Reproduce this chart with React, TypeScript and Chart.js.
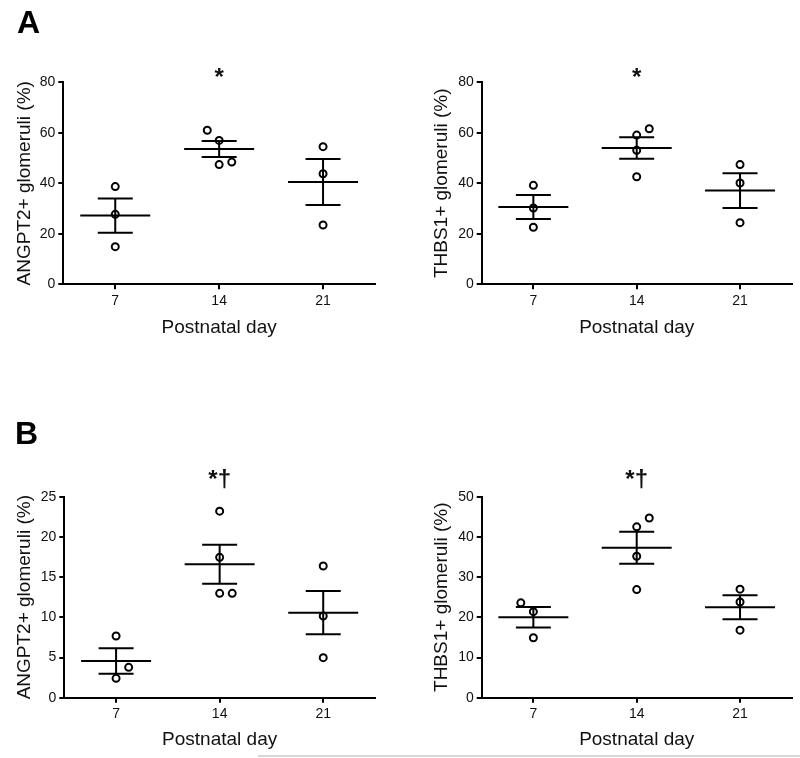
import React, { useEffect, useRef } from "react";
import { Chart, registerables } from "chart.js";

Chart.register(...registerables);

// ---------- data ----------
const dayTicks = [7, 14, 21];
const xTitle = "Postnatal day";

// Panel A, ANGPT2
const angptA_x = [7, 7, 7, 13.2, 14, 14, 14.85, 21, 21, 21];
const angptA_y = [38.7, 27.7, 14.9, 61.0, 57.0, 47.4, 48.4, 54.5, 43.8, 23.5];
const angptA_mean = [27.2, 53.6, 40.5];
const angptA_sem = [6.8, 3.15, 9.1];
const angptA_marks = ["", "*", ""];
const angptA_yTicks = [0, 20, 40, 60, 80];

// Panel A, THBS1
const thbsA_x = [7, 7, 7, 14, 14.85, 14, 14, 21, 21, 21];
const thbsA_y = [39.2, 30.2, 22.6, 59.1, 61.6, 53.1, 42.6, 47.4, 40.1, 24.4];
const thbsA_mean = [30.6, 54.0, 37.1];
const thbsA_sem = [4.75, 4.25, 6.9];
const thbsA_marks = ["", "*", ""];
const thbsA_yTicks = [0, 20, 40, 60, 80];

// Panel B, ANGPT2
const angptB_x = [7, 7.85, 7, 14, 14, 14, 14.85, 21, 21, 21];
const angptB_y = [7.67, 3.78, 2.41, 23.2, 17.46, 12.98, 12.98, 16.38, 10.16, 4.98];
const angptB_mean = [4.56, 16.59, 10.58];
const angptB_sem = [1.58, 2.43, 2.68];
const angptB_marks = ["", "*†", ""];
const angptB_yTicks = [0, 5, 10, 15, 20, 25];

// Panel B, THBS1
const thbsB_x = [6.15, 7, 7, 14, 14.85, 14, 14, 21, 21, 21];
const thbsB_y = [23.6, 21.4, 14.9, 42.5, 44.7, 35.2, 26.9, 27.0, 23.8, 16.8];
const thbsB_mean = [20.0, 37.3, 22.5];
const thbsB_sem = [2.55, 4.0, 3.0];
const thbsB_marks = ["", "*†", ""];
const thbsB_yTicks = [0, 10, 20, 30, 40, 50];

// ---------- styling ----------
const FONT = '"Liberation Sans", Arial, Helvetica, sans-serif';
const W = 400;
const H = 379;
const TITLE_SIZE = 19;
const TITLE_LH = TITLE_SIZE * 1.2;

type Area = { l: number; t: number; r: number; b: number };

type PanelProps = {
  left: number;
  top: number;
  area: Area;
  yTitleCx: number;
  xTitleMid: number;
  yTitle: string;
  xs: number[];
  ys: number[];
  means: number[];
  sems: number[];
  marks: string[];
  markOffset: number;
  yTicks: number[];
};

function Panel(p: PanelProps) {
  const ref = useRef<HTMLCanvasElement | null>(null);

  useEffect(() => {
    const canvas = ref.current;
    if (!canvas) return;

    const meanSem = {
      id: "meanSem",
      afterDraw(chart: any) {
        const { ctx, chartArea } = chart;
        const x = chart.scales.x;
        const y = chart.scales.y;
        ctx.save();
        ctx.strokeStyle = "#000";
        ctx.lineWidth = 2;
        p.means.forEach((m, i) => {
          const cx = x.getPixelForValue(dayTicks[i]);
          const ym = y.getPixelForValue(m);
          const yu = y.getPixelForValue(m + p.sems[i]);
          const yl = y.getPixelForValue(m - p.sems[i]);
          ctx.beginPath();
          ctx.moveTo(cx - 35, ym);
          ctx.lineTo(cx + 35, ym);
          ctx.moveTo(cx - 17.5, yu);
          ctx.lineTo(cx + 17.5, yu);
          ctx.moveTo(cx - 17.5, yl);
          ctx.lineTo(cx + 17.5, yl);
          ctx.moveTo(cx, yu);
          ctx.lineTo(cx, yl);
          ctx.stroke();
        });
        ctx.fillStyle = "#111";
        ctx.font = `bold 24px ${FONT}`;
        ctx.textAlign = "center";
        ctx.textBaseline = "alphabetic";
        p.marks.forEach((t, i) => {
          if (t) ctx.fillText(t, x.getPixelForValue(dayTicks[i]), chartArea.top + p.markOffset);
        });
        ctx.restore();
      },
    };

    const yMax = p.yTicks[p.yTicks.length - 1];
    const chart = new Chart(canvas, {
      type: "scatter",
      data: {
        datasets: [
          {
            data: p.xs.map((xv, i) => ({ x: xv, y: p.ys[i] })),
            pointStyle: "circle",
            pointRadius: 3.5,
            pointBorderWidth: 2,
            pointBorderColor: "#000",
            pointBackgroundColor: "rgba(0,0,0,0)",
            showLine: false,
          },
        ],
      },
      options: {
        responsive: false,
        animation: false,
        devicePixelRatio: 1,
        layout: {
          padding: { left: 0, top: p.area.t, right: W - p.area.r, bottom: 0 },
        },
        plugins: {
          legend: { display: false },
          tooltip: { enabled: false },
        },
        scales: {
          x: {
            type: "linear",
            min: dayTicks[0] - 3.5,
            max: dayTicks[dayTicks.length - 1] + 3.5,
            afterBuildTicks: (scale: any) => {
              scale.ticks = dayTicks.map((v) => ({ value: v }));
            },
            afterFit: (scale: any) => {
              scale.height = H - p.area.b;
            },
            grid: {
              display: true,
              drawOnChartArea: false,
              drawTicks: true,
              tickLength: 5,
              color: "#000",
              lineWidth: 2,
            },
            border: { display: true, color: "#000", width: 2 },
            ticks: {
              color: "#111",
              font: { family: FONT, size: 14 },
              padding: 3,
              maxRotation: 0,
              callback: (v: any) => String(v),
            },
            title: {
              display: true,
              text: xTitle,
              color: "#111",
              font: { family: FONT, size: TITLE_SIZE },
              padding: { top: 0, bottom: H - p.xTitleMid - TITLE_LH / 2 },
            },
          },
          y: {
            type: "linear",
            min: 0,
            max: yMax,
            afterBuildTicks: (scale: any) => {
              scale.ticks = p.yTicks.map((v) => ({ value: v }));
            },
            afterFit: (scale: any) => {
              scale.width = p.area.l;
            },
            grid: {
              display: true,
              drawOnChartArea: false,
              drawTicks: true,
              tickLength: 5,
              color: "#000",
              lineWidth: 2,
            },
            border: { display: true, color: "#000", width: 2 },
            ticks: {
              color: "#111",
              font: { family: FONT, size: 14 },
              padding: 3,
              callback: (v: any) => String(v),
            },
            title: {
              display: true,
              text: p.yTitle,
              color: "#111",
              font: { family: FONT, size: TITLE_SIZE },
              padding: { top: p.yTitleCx - TITLE_LH / 2, bottom: 0 },
            },
          },
        },
      },
      plugins: [meanSem],
    } as any);

    return () => chart.destroy();
  }, []);

  return (
    <canvas
      ref={ref}
      width={W}
      height={H}
      style={{ position: "absolute", left: p.left, top: p.top, width: W, height: H, display: "block" }}
    />
  );
}

export default function App() {
  const letterStyle: React.CSSProperties = {
    position: "absolute",
    fontFamily: FONT,
    fontWeight: "bold",
    fontSize: 32,
    lineHeight: "32px",
    color: "#000",
  };
  return (
    <div style={{ position: "absolute", left: 0, top: 0, width: 800, height: 758, background: "#fff", overflow: "hidden" }}>
      <Panel
        left={0}
        top={0}
        area={{ l: 63.3, t: 82.3, r: 375, b: 284.3 }}
        yTitleCx={25}
        xTitleMid={328}
        yTitle="ANGPT2+ glomeruli (%)"
        xs={angptA_x}
        ys={angptA_y}
        means={angptA_mean}
        sems={angptA_sem}
        marks={angptA_marks}
        markOffset={3}
        yTicks={angptA_yTicks}
      />
      <Panel
        left={400}
        top={0}
        area={{ l: 81.7, t: 82.3, r: 391.7, b: 284.3 }}
        yTitleCx={41.3}
        xTitleMid={328}
        yTitle="THBS1+ glomeruli (%)"
        xs={thbsA_x}
        ys={thbsA_y}
        means={thbsA_mean}
        sems={thbsA_sem}
        marks={thbsA_marks}
        markOffset={3}
        yTicks={thbsA_yTicks}
      />
      <Panel
        left={0}
        top={379}
        area={{ l: 64.3, t: 117.7, r: 375, b: 318.7 }}
        yTitleCx={25}
        xTitleMid={360.6}
        yTitle="ANGPT2+ glomeruli (%)"
        xs={angptB_x}
        ys={angptB_y}
        means={angptB_mean}
        sems={angptB_sem}
        marks={angptB_marks}
        markOffset={-9.4}
        yTicks={angptB_yTicks}
      />
      <Panel
        left={400}
        top={379}
        area={{ l: 81.7, t: 117.7, r: 391.7, b: 318.7 }}
        yTitleCx={41.3}
        xTitleMid={360.6}
        yTitle="THBS1+ glomeruli (%)"
        xs={thbsB_x}
        ys={thbsB_y}
        means={thbsB_mean}
        sems={thbsB_sem}
        marks={thbsB_marks}
        markOffset={-9.4}
        yTicks={thbsB_yTicks}
      />
      <div style={{ ...letterStyle, left: 17, top: 6 }}>A</div>
      <div style={{ ...letterStyle, left: 15, top: 416.5 }}>B</div>
      <div style={{ position: "absolute", left: 258, top: 755, width: 542, height: 2, background: "#d6d6d6" }} />
    </div>
  );
}
